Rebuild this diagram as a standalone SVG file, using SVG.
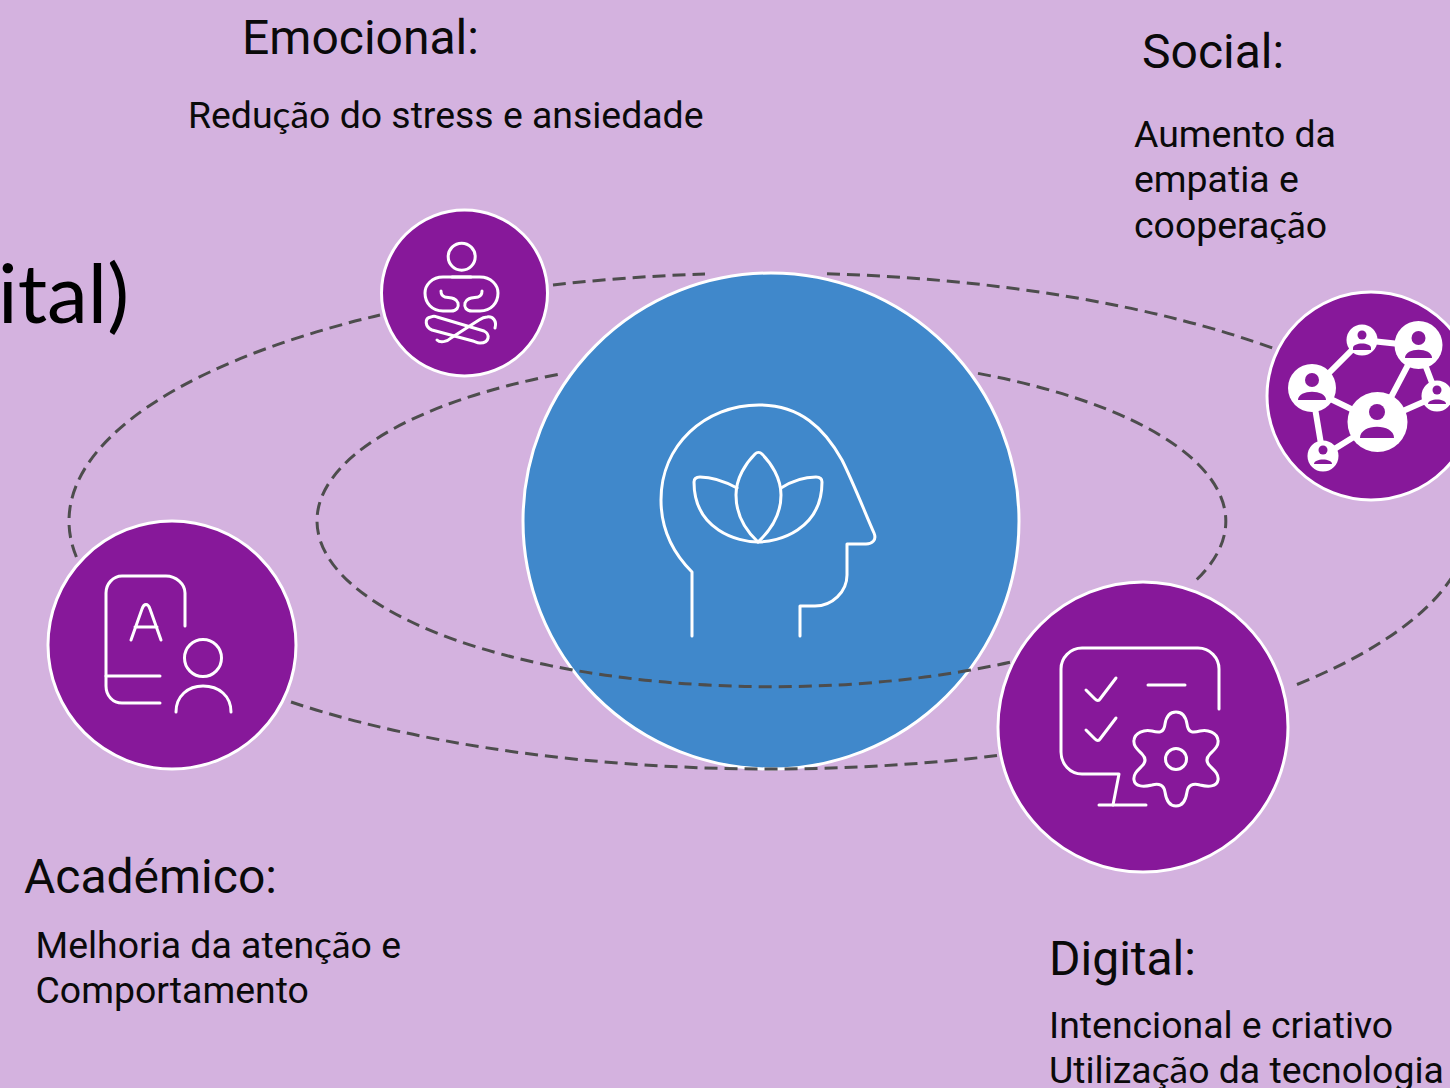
<svg xmlns="http://www.w3.org/2000/svg" width="1450" height="1088" viewBox="0 0 1450 1088">
<style>
.n{fill:#87189a;stroke:#fff;stroke-width:3}
.b{fill:#4088cb;stroke:#fff;stroke-width:3}
.i{fill:none;stroke:#fff;stroke-width:3;stroke-linecap:round;stroke-linejoin:round}
.c{fill:none;stroke:#4d4d4d;stroke-width:3;stroke-dasharray:13 7}
.h{font-family:Roboto,"Liberation Sans",sans-serif;font-size:48px;fill:#0a0a0a}
.t{font-family:Roboto,"Liberation Sans",sans-serif;font-size:37.400px;fill:#0a0a0a}
.f{font-family:Lato,"Liberation Sans",sans-serif}
.w{fill:#fff}.p{fill:#87189a}
.l{stroke:#fff;stroke-width:6;fill:none}
</style>
<rect width="1450" height="1088" fill="#d4b2df"/>
<text x="-2" y="323" font-family="Lato,'Noto Sans',sans-serif" font-size="82" fill="#000">ital)</text>
<g id="centro">
<circle class="b" cx="771" cy="521" r="248"/>
<g class="i">
<path d="M692 636V572C670 550 661 525 661 500C661 445 705 405 759 405C800 405 824 428 842 460C853 482 866 515 874 533C877 540 872 544 866 544H847V575C847 592 832 606 815 606H800V636"/>
<path d="M758 542C778 542 822 530 822 482C822 478 819 477 816 477C804 477 792 481 781 488"/>
<path d="M758 542C738 542 694 530 694 482C694 478 697 477 700 477C712 477 724 481 737 488"/>
<path d="M758 542C745 530 736 515 736 495C736 478 746 463 755 454C757 452 760 452 762 454C771 463 781 478 781 495C781 515 771 530 758 542Z"/>
</g>
</g>
<g id="conectores">
<path class="c" d="M827 273.800A701 248 0 0 1 1275 349"/>
<path class="c" d="M1297 684.500A701 248 0 0 0 1470 521"/>
<path class="c" d="M997 755.600A701 248 0 0 1 290 701.700"/>
<path class="c" d="M76.400 557A701 248 0 0 1 380 315"/>
<path class="c" d="M553 285A701 248 0 0 1 705 274"/>
<path class="c" d="M978 373.400A455 166 0 0 1 1196 580.300"/>
<path class="c" d="M1010 662.200A455 166 0 0 1 317 521A455 166 0 0 1 563 373.400"/>
</g>
<g id="emocional">
<circle class="n" cx="464.500" cy="293" r="83"/>
<g class="i">
<circle cx="461.700" cy="256.700" r="13.500"/>
<path d="M452 277H480C491 277 498 285 498 293C498 303 491 311 480 311H472C466 311 464 307 465 303C467 297 474 298 478 297C481 296 482 294 482 291"/>
<path d="M471 277H443C432 277 425 285 425 293C425 303 432 311 443 311H451C457 311 459 307 458 303C456 297 449 298 445 297C442 296 441 294 441 291"/>
<path d="M437 317L484 331C490 334 490 343 480 343C477 343 476 342 473 341L432 330C425 327 424 318 431 317C433 316 435 316 437 317Z"/>
<path d="M495 328C497 321 493 316 487 317C484 317 482 318 479 320L451 338C447 342 440 343 437 340"/>
</g>
</g>
<g id="social">
<circle class="n" cx="1371" cy="396" r="104"/>
<path class="l" d="M1312 390L1362 340L1418 346L1378 422L1312 390M1418 346L1437 396L1378 422L1323 456L1312 390"/>
<g>
<circle class="w" cx="1362" cy="340" r="15.500"/><circle class="p" cx="1362" cy="335" r="4.500"/><path class="p" d="M1353 348C1353 342 1371 342 1371 348V350H1353Z"/>
<circle class="w" cx="1418.500" cy="345" r="24"/><circle class="p" cx="1418.500" cy="338" r="7"/><path class="p" d="M1405 358C1405 347 1432 347 1432 358H1405Z"/>
<circle class="w" cx="1312" cy="388" r="24"/><circle class="p" cx="1312" cy="380" r="7"/><path class="p" d="M1298 400C1298 389 1326 389 1326 400H1298Z"/>
<circle class="w" cx="1377.500" cy="422" r="30"/><circle class="p" cx="1377" cy="412" r="8"/><path class="p" d="M1360 438C1360 423 1394 423 1394 438H1360Z"/>
<circle class="w" cx="1437" cy="396" r="15.500"/><circle class="p" cx="1437" cy="390" r="4.500"/><path class="p" d="M1428 404C1428 398 1446 398 1446 404H1428Z"/>
<circle class="w" cx="1323" cy="456" r="15.500"/><circle class="p" cx="1323" cy="450" r="4.500"/><path class="p" d="M1314 464C1314 458 1332 458 1332 464H1314Z"/>
</g>
</g>
<g id="digital">
<circle class="n" cx="1143" cy="727" r="145"/>
<g class="i" stroke-linecap="butt">
<path d="M1219 709V669C1219 658 1210 648 1198 648H1082C1070 648 1061 658 1061 669V752C1061 764 1070 774 1082 774H1119L1113 805"/>
<path d="M1099 805H1146M1148 685H1185"/>
<path d="M1086 690L1095 699C1097 701 1099 701 1100 699L1116 678"/>
<path d="M1086 730L1095 739C1097 741 1099 741 1100 739L1116 718"/>
<path d="M1176 712C1183 712 1186 718 1187 724C1188 733 1193 733 1200 731C1208 729 1217 733 1218 740C1219 746 1214 750 1210 754C1206 758 1206 762 1210 766C1214 770 1219 774 1218 780C1217 787 1208 787 1200 785C1193 783 1188 785 1187 792C1186 799 1183 806 1176 806C1169 806 1166 799 1165 792C1164 785 1159 783 1152 785C1144 787 1135 787 1134 780C1133 774 1138 770 1142 766C1146 762 1146 758 1142 754C1138 750 1133 746 1134 740C1135 733 1144 729 1152 731C1159 733 1164 733 1165 724C1166 718 1169 712 1176 712Z"/>
<circle cx="1176" cy="759" r="10.500"/>
</g>
</g>
<g id="academico">
<circle class="n" cx="172" cy="645" r="124"/>
<g class="i" stroke-linecap="butt">
<path d="M185 626V593C185 584 176 576 166 576H122C113 576 106 584 106 593V686C106 696 113 703 122 703H160"/>
<path d="M106 676H160"/>
<path d="M131 640L142 609C144 603 148 603 150 609L161 640M135 627H157"/>
<circle cx="203" cy="658" r="18.500"/>
<path d="M176 712C176 696 188 686 203 686C219 686 231 696 231 712"/>
</g>
</g>
<g id="textos">
<text class="h" x="242" y="54">Emocional:</text>
<text class="t" x="188" y="128">Redu<tspan class="f">çã</tspan>o do stress e ansiedade</text>
<text class="h" x="1142" y="68">Social:</text>
<text class="t" x="1134" y="147">Aumento da</text>
<text class="t" x="1134" y="192">empatia e</text>
<text class="t" x="1134" y="238">coopera<tspan class="f">çã</tspan>o</text>
<text class="h" x="24" y="893">Acad<tspan class="f">é</tspan>mico:</text>
<text class="t" x="35.500" y="958">Melhoria da aten<tspan class="f">çã</tspan>o e</text>
<text class="t" x="35.500" y="1003">Comportamento</text>
<text class="h" x="1049" y="975">Digital:</text>
<text class="t" x="1049" y="1038">Intencional e criativo</text>
<text class="t" x="1049" y="1083">Utiliza<tspan class="f">çã</tspan>o da tecnologia</text>
</g>
</svg>
